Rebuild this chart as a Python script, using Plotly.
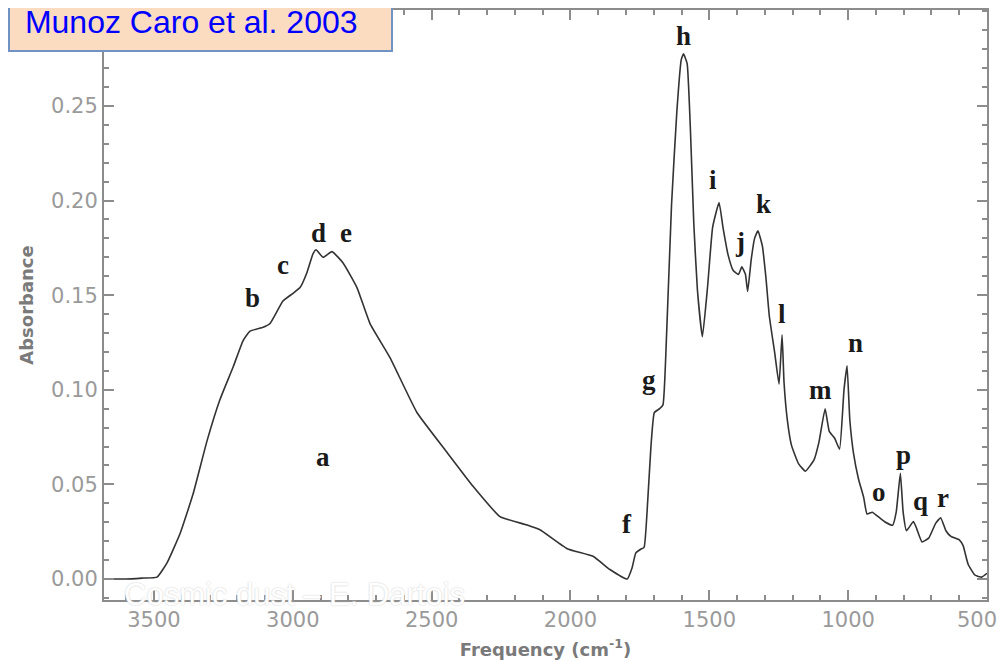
import plotly.graph_objects as go

# spectrum (wavenumber in cm-1, absorbance)
wavenumber = [3680, 3600, 3540, 3489, 3453, 3406, 3359, 3309, 3262, 3215, 3179, 3154,
              3107, 3082, 3035, 2999, 2974, 2949, 2927, 2916, 2891, 2859, 2819, 2769,
              2722, 2650, 2553, 2445, 2351, 2254, 2156, 2110, 2012, 1919, 1858, 1796,
              1778, 1765, 1747, 1735, 1722, 1710, 1698, 1679, 1667, 1654, 1636, 1617,
              1601, 1593, 1580, 1568, 1556, 1543, 1525, 1506, 1488, 1465, 1451, 1432,
              1414, 1395, 1383, 1370, 1362, 1349, 1337, 1325, 1309, 1296, 1284, 1265,
              1249, 1238, 1231, 1219, 1204, 1179, 1154, 1123, 1105, 1083, 1068, 1049,
              1031, 1015, 1004, 994, 981, 963, 944, 932, 913, 895, 870, 840,
              827, 812, 802, 790, 765, 753, 734, 710, 685, 667, 648, 630,
              599, 586, 568, 543, 519, 500]
absorbance = [0.000, 0.000, 0.0005, 0.001, 0.0085, 0.024, 0.045, 0.073, 0.095, 0.112, 0.126, 0.131,
              0.133, 0.135, 0.147, 0.151, 0.154, 0.162, 0.172, 0.174, 0.170, 0.173, 0.167, 0.154,
              0.135, 0.117, 0.088, 0.067, 0.049, 0.033, 0.0285, 0.026, 0.016, 0.012, 0.005, 0.000,
              0.006, 0.0137, 0.0157, 0.0167, 0.041, 0.0706, 0.088, 0.090, 0.092, 0.129, 0.198, 0.247,
              0.2745, 0.2775, 0.2725, 0.237, 0.188, 0.153, 0.128, 0.155, 0.186, 0.199, 0.186, 0.171,
              0.163, 0.161, 0.165, 0.161, 0.152, 0.169, 0.180, 0.184, 0.176, 0.159, 0.139, 0.120,
              0.103, 0.129, 0.104, 0.084, 0.0706, 0.061, 0.057, 0.063, 0.0725, 0.090, 0.078, 0.0745,
              0.0686, 0.100, 0.1127, 0.084, 0.0667, 0.053, 0.043, 0.0343, 0.0353, 0.0333, 0.0304, 0.0284,
              0.0353, 0.0559, 0.0353, 0.0255, 0.0304, 0.0265, 0.0196, 0.0216, 0.0294, 0.0324, 0.0255, 0.0225,
              0.0206, 0.0176, 0.0078, 0.002, 0.001, 0.003]

# band labels and where they sit
band_letters = ["a", "b", "c", "d", "e", "f", "g", "h", "i", "j", "k", "l", "m", "n", "o", "p", "q", "r"]
band_x = [2891, 3147, 3035, 2909, 2808, 1796, 1716, 1593, 1488, 1389, 1305, 1237, 1099, 972, 889, 802, 741, 660]
band_y = [0.0645, 0.1485, 0.166, 0.183, 0.183, 0.029, 0.105, 0.287, 0.211, 0.178, 0.198, 0.140,
          0.100, 0.1245, 0.046, 0.0657, 0.041, 0.043]

x_ticks = [3500, 3000, 2500, 2000, 1500, 1000, 500]
x_tick_text = ["3500", "3000", "2500", "2000", "1500", "1000", "500\u00a0\u00a0\u00a0"]
y_ticks = [0.00, 0.05, 0.10, 0.15, 0.20, 0.25]

axis_grey = "#8c8c8c"
label_grey = "#9a9a9a"

fig = go.Figure()
fig.add_trace(go.Scatter(x=wavenumber, y=absorbance, mode="lines",
                         line=dict(color="#333333", width=1.6, shape="spline", smoothing=0.4),
                         showlegend=False))

for letter, bx, by in zip(band_letters, band_x, band_y):
    fig.add_annotation(x=bx, y=by, text="<b>" + letter + "</b>", showarrow=False,
                       font=dict(family="Liberation Serif", size=27, color="#1a1a1a"))

# source box in the top-left corner
fig.add_annotation(xref="paper", yref="paper", x=-0.1087, y=1.0305, xanchor="left", yanchor="top",
                   text="\u00a0Munoz Caro et al. 2003", showarrow=False, align="left",
                   width=369, height=44, borderpad=6,
                   font=dict(family="Liberation Sans", size=32, color="#0000ff"),
                   bgcolor="#fbdcc1", bordercolor="#7193c4", borderwidth=2)

# white watermark over the bottom axis
fig.add_annotation(xref="paper", yref="paper", x=0.02, y=0.01, xanchor="left", yanchor="middle",
                   text="Cosmic dust \u2013 E. Dartois", showarrow=False,
                   font=dict(family="Liberation Sans", size=31, color="white",
                             shadow="0px 0px 2px #c4c4c4"))

fig.update_xaxes(range=[3680, 500], tickvals=x_ticks, ticktext=x_tick_text,
                 ticklabeloverflow="allow", automargin=False,
                 ticks="inside", ticklen=10, tickwidth=1.5, tickcolor=axis_grey,
                 minor=dict(dtick=100, tick0=500, ticks="inside", ticklen=5, tickcolor=axis_grey, tickwidth=1.5),
                 showline=True, linecolor=axis_grey, linewidth=2, mirror="ticks",
                 showgrid=False, zeroline=False,
                 tickfont=dict(family="DejaVu Sans", size=21, color=label_grey),
                 title=dict(text="<b>Frequency (cm<sup>-1</sup>)</b>",
                            font=dict(family="DejaVu Sans", size=18, color="#7a7a7a"), standoff=12))
fig.update_yaxes(range=[-0.0111, 0.3007], tickvals=y_ticks, tickformat=".2f",
                 automargin=False,
                 ticks="inside", ticklen=10, tickwidth=1.5, tickcolor=axis_grey,
                 minor=dict(dtick=0.01, tick0=0, ticks="inside", ticklen=5, tickcolor=axis_grey, tickwidth=1.5),
                 showline=True, linecolor=axis_grey, linewidth=2, mirror="ticks",
                 showgrid=False, zeroline=False,
                 tickfont=dict(family="DejaVu Sans", size=21, color=label_grey),
                 title=dict(text="<b>Absorbance</b>",
                            font=dict(family="DejaVu Sans", size=18, color="#7a7a7a"), standoff=13))

# the page body adds an 8 px margin, so the figure is 8 px smaller each way
fig.update_layout(width=998, height=653, margin=dict(l=96, r=19, t=2, b=61),
                  paper_bgcolor="white", plot_bgcolor="white")

fig.write_html("out.html")
